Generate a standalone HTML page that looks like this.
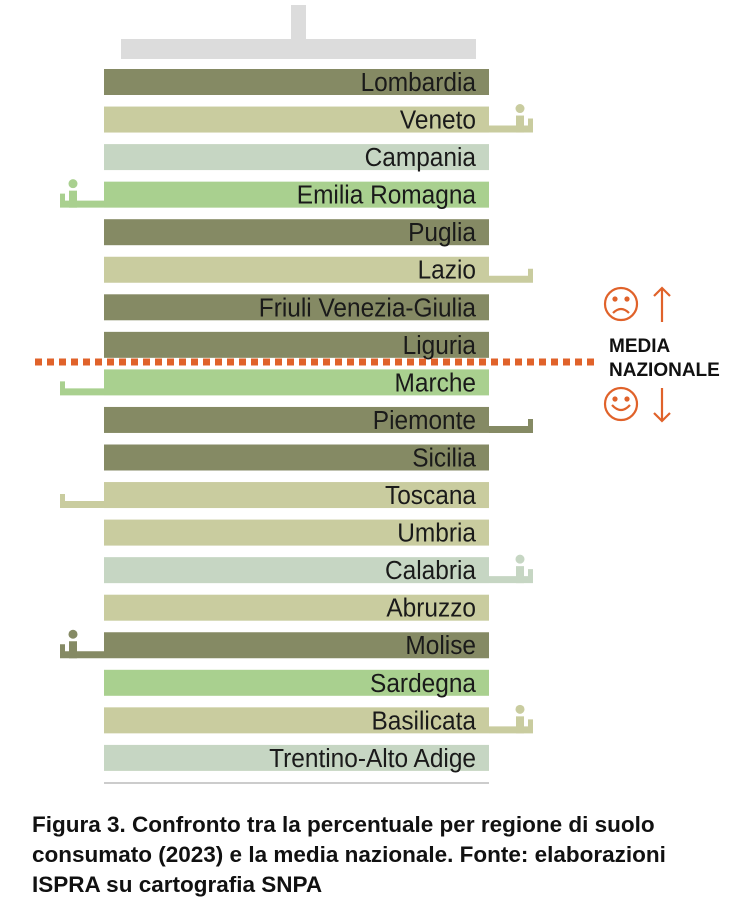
<!DOCTYPE html>
<html><head><meta charset="utf-8"><style>
body{margin:0;background:#fff;width:750px;height:916px;overflow:hidden;font-family:"Liberation Sans",sans-serif}
#cap{position:absolute;left:32px;top:810px;font-weight:bold;font-size:22.5px;line-height:30px;color:#111;width:760px}
</style></head><body>
<svg id="chart" width="750" height="800" style="position:absolute;left:0;top:0">
<rect x="121" y="39" width="355" height="20" fill="#dcdcdc"/>
<rect x="291" y="5" width="15" height="36" fill="#dcdcdc"/>
<g id="rows"></g>
<line x1="104" y1="783" x2="489" y2="783" stroke="#999" stroke-width="1"/>
<line x1="35" y1="362" x2="597" y2="362" stroke="#e0622a" stroke-width="7" stroke-dasharray="7 5"/>
<g stroke="#e0622a" stroke-width="2.2" fill="none">
<circle cx="621" cy="304" r="16"/>
<circle cx="615" cy="299" r="1.5" fill="#e0622a"/><circle cx="627" cy="299" r="1.5" fill="#e0622a"/>
<path d="M613 313 Q621 305 629 313"/>
<path d="M662 322 V288 M654 296 L662 288 L670 296"/>
<circle cx="621" cy="404" r="16"/>
<circle cx="615" cy="399" r="1.5" fill="#e0622a"/><circle cx="627" cy="399" r="1.5" fill="#e0622a"/>
<path d="M612 405 Q621 415 630 405"/>
<path d="M662 388 V421 M654 413 L662 421 L670 413"/>
</g>
<text x="609" y="352" font-family="Liberation Sans" font-weight="bold" font-size="19" fill="#111">MEDIA</text>
<text x="609" y="376" font-family="Liberation Sans" font-weight="bold" font-size="19" fill="#111">NAZIONALE</text>
</svg>
<div id="cap">Figura 3. Confronto tra la percentuale per regione di suolo<br>consumato (2023) e la media nazionale. Fonte: elaborazioni<br>ISPRA su cartografia SNPA</div>
<script>
const regions=["Lombardia","Veneto","Campania","Emilia Romagna","Puglia","Lazio","Friuli Venezia-Giulia","Liguria","Marche","Piemonte","Sicilia","Toscana","Umbria","Calabria","Abruzzo","Molise","Sardegna","Basilicata","Trentino-Alto Adige"];
const colorGroup=[0,1,2,3,0,1,0,0,3,0,0,1,1,2,1,0,3,1,2];
const rankShift=[0,1,0,-1,0,1,0,0,-1,1,0,-1,0,1,0,-1,0,1,0];
const hasPerson=[0,1,0,1,0,0,0,0,0,0,0,0,0,1,0,1,0,1,0];
const palette=["#858a64","#c9cc9f","#c6d6c3","#a9d08f"];
const NS="http://www.w3.org/2000/svg";
const g=document.getElementById("rows");
const x0=104,x1=489,y0=69,step=37.55,h=26;
function mk(t,a){const e=document.createElementNS(NS,t);for(const k in a)e.setAttribute(k,a[k]);return e;}
regions.forEach((r,i)=>{
 const y=y0+i*step,c=palette[colorGroup[i]];
 const b=mk("rect",{x:x0,y:y,width:x1-x0,height:h,fill:c});
 
 
 g.appendChild(b);
 const t=mk("text",{x:476,y:y+22,"text-anchor":"end","font-family":"Liberation Sans, sans-serif","font-size":26,fill:"#1a1a1a",transform:`translate(476 0) scale(0.94 1) translate(-476 0)`});
 t.textContent=r;
 
 
 g.appendChild(t);
 const s=rankShift[i];
 if(s!==0){
  const dir=s>0?1:-1;
  const base=s>0?x1:x0;
  const far=base+dir*44;
  const br=mk("path",{d:`M${base} ${y+h-7} H${far-dir*5} V${y+12} H${far} V${y+h} H${base} Z`,fill:c});
  
  
  g.appendChild(br);
  if(hasPerson[i]){
   const px=base+dir*31;
   const p=mk("g",{fill:c});
   
   
   p.appendChild(mk("circle",{cx:px,cy:y+2,r:4.5}));
   p.appendChild(mk("path",{d:`M${px-4} ${y+h} V${y+9} H${px+4} V${y+h} Z`}));
   g.appendChild(p);
  }
 }
});
</script>
</body></html>
